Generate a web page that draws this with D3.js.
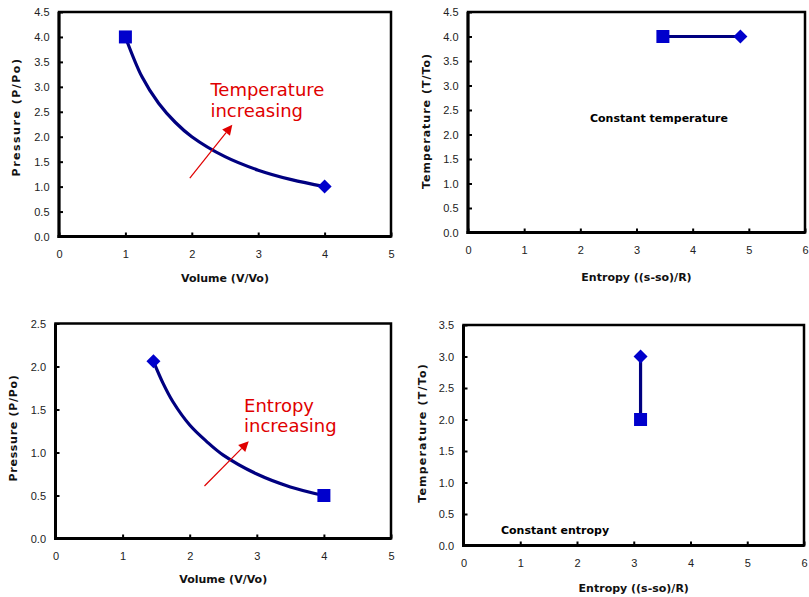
<!DOCTYPE html>
<html lang="en">
<head>
<meta charset="UTF-8">
<title>Isothermal and isentropic processes</title>
<script src="https://d3js.org/d3.v7.min.js"></script>
<style>
  body { margin: 0; background: #fff; }
  svg { display: block; font-family: "DejaVu Sans", Verdana, sans-serif; }
  .tick text { fill: #222; font-size: 11px; }
  .tick line { stroke: #000; stroke-width: 2; }
  .axis-title { font-size: 11px; font-weight: bold; fill: #111; }
  .note { font-size: 11px; font-weight: bold; fill: #000; }
  .red-note { font-size: 18px; fill: #e00000; }
</style>
</head>
<body>
<svg id="chart" width="809" height="597"></svg>
<script>
// ---- data ----
// isothermal process, P-V (temperature = 4)
const isoV = [1, 1.25, 1.5, 1.75, 2, 2.5, 3, 3.5, 4];
const isoP = [4, 3.2, 2.67, 2.29, 2, 1.6, 1.33, 1.14, 1];
// isothermal process, T-s
const isoS = [3.47, 4.85];
const isoT = [4, 4];

// isentropic process, P-V
const adiV = [1.46, 1.6, 1.75, 2, 2.25, 2.5, 3, 3.5, 4];
const adiP = [2.06, 1.81, 1.59, 1.32, 1.13, 0.97, 0.75, 0.6, 0.5];
// isentropic process, T-s
const adiS = [3.12, 3.12];
const adiT = [3, 2];

// which end gets the square and which the diamond (index into series)
const squareAt = { iso: 0, isoTs: 0, adi: 8, adiTs: 1 };

const xTicksV = [0, 1, 2, 3, 4, 5];
const xTicksS = [0, 1, 2, 3, 4, 5, 6];

// annotation arrows, in data units [tailX, tailY, headX, headY]
const tempArrow = [1.97, 1.17, 2.61, 2.24];
const entArrow = [2.22, 0.61, 2.88, 1.13];

const svg = d3.select("#chart");

function panel(opt) {
  const x = d3.scaleLinear().domain(opt.xDomain).range([opt.left, opt.right]);
  const y = d3.scaleLinear().domain(opt.yDomain).range([opt.bottom, opt.top]);
  const g = svg.append("g");

  g.append("rect")
    .attr("x", opt.left).attr("y", opt.top)
    .attr("width", opt.right - opt.left).attr("height", opt.bottom - opt.top)
    .attr("fill", "#fff").attr("stroke", "#000").attr("stroke-width", 2.5);

  const yTicks = d3.range(opt.yDomain[0], opt.yDomain[1] + 0.001, 0.5);

  const xa = g.append("g").attr("transform", `translate(0,${opt.bottom})`)
    .call(d3.axisBottom(x).tickValues(opt.xTicks).tickFormat(d3.format("d"))
      .tickSize(-4).tickSizeOuter(0).tickPadding(14));
  xa.select(".domain").remove();

  const ya = g.append("g").attr("transform", `translate(${opt.left},0)`)
    .call(d3.axisLeft(y).tickValues(yTicks).tickFormat(d3.format(".1f"))
      .tickSize(-4).tickSizeOuter(0).tickPadding(9.5));
  ya.select(".domain").remove();

  // heavier left and bottom axis lines
  g.append("line").attr("x1", opt.left).attr("x2", opt.left)
    .attr("y1", opt.top).attr("y2", opt.bottom + 1.5)
    .attr("stroke", "#000").attr("stroke-width", 3);
  g.append("line").attr("x1", opt.left - 1.5).attr("x2", opt.right)
    .attr("y1", opt.bottom).attr("y2", opt.bottom)
    .attr("stroke", "#000").attr("stroke-width", 3);

  g.append("text").attr("class", "axis-title")
    .attr("x", (opt.left + opt.right) / 2).attr("y", opt.xTitleY)
    .attr("text-anchor", "middle").text(opt.xTitle);
  g.append("text").attr("class", "axis-title")
    .attr("transform", `translate(${opt.yTitleX},${opt.yTitleY}) rotate(-90)`)
    .attr("letter-spacing", opt.yTitleSpacing)
    .attr("text-anchor", "middle").text(opt.yTitle);

  // series line
  const pts = opt.xs.map((v, i) => [v, opt.ys[i]]);
  g.append("path").datum(pts)
    .attr("fill", "none").attr("stroke", "#000080").attr("stroke-width", 3.2)
    .attr("d", d3.line().x(d => x(d[0])).y(d => y(d[1])).curve(d3.curveCatmullRom));

  // end markers
  const first = 0, last = pts.length - 1;
  [first, last].forEach(i => {
    const px = x(pts[i][0]), py = y(pts[i][1]);
    if (i === opt.square) {
      g.append("rect").attr("x", px - 6.5).attr("y", py - 6.5)
        .attr("width", 13).attr("height", 13).attr("fill", "#0000cc");
    } else {
      g.append("path")
        .attr("d", d3.symbol().type(d3.symbolDiamond2).size(125)())
        .attr("transform", `translate(${px},${py})`)
        .attr("fill", "#0000cc");
    }
  });

  return { g, x, y };
}

function arrow(p, a) {
  const x0 = p.x(a[0]), y0 = p.y(a[1]), x1 = p.x(a[2]), y1 = p.y(a[3]);
  const ang = Math.atan2(y1 - y0, x1 - x0);
  const len = 10, half = 5;
  const bx = x1 - len * Math.cos(ang), by = y1 - len * Math.sin(ang);
  p.g.append("line").attr("x1", x0).attr("y1", y0).attr("x2", bx).attr("y2", by)
    .attr("stroke", "#e00000").attr("stroke-width", 1.2);
  p.g.append("path")
    .attr("d", `M${x1},${y1}L${bx - half * Math.sin(ang)},${by + half * Math.cos(ang)}L${bx + half * Math.sin(ang)},${by - half * Math.cos(ang)}Z`)
    .attr("fill", "#e00000");
}

// top left: P-V, constant temperature
const p1 = panel({
  left: 59, right: 391, top: 12, bottom: 236.5,
  xDomain: [0, 5], yDomain: [0, 4.5], xTicks: xTicksV,
  xs: isoV, ys: isoP, square: squareAt.iso,
  xTitle: "Volume (V/Vo)", xTitleY: 282,
  yTitle: "Pressure (P/Po)", yTitleX: 20, yTitleY: 117, yTitleSpacing: 1.5
});
arrow(p1, tempArrow);
p1.g.append("text").attr("class", "red-note").attr("x", p1.x(2.28)).attr("y", p1.y(2.82)).text("Temperature");
p1.g.append("text").attr("class", "red-note").attr("x", p1.x(2.28)).attr("y", p1.y(2.4)).text("increasing");

// top right: T-s, constant temperature
const p2 = panel({
  left: 468, right: 805, top: 12, bottom: 232.5,
  xDomain: [0, 6], yDomain: [0, 4.5], xTicks: xTicksS,
  xs: isoS, ys: isoT, square: squareAt.isoTs,
  xTitle: "Entropy ((s-so)/R)", xTitleY: 281,
  yTitle: "Temperature (T/To)", yTitleX: 430, yTitleY: 121, yTitleSpacing: 1
});
p2.g.append("text").attr("class", "note").attr("x", p2.x(3.4)).attr("y", p2.y(2.25))
  .attr("text-anchor", "middle").text("Constant temperature");

// bottom left: P-V, constant entropy
const p3 = panel({
  left: 55.5, right: 391, top: 323.5, bottom: 538.5,
  xDomain: [0, 5], yDomain: [0, 2.5], xTicks: xTicksV,
  xs: adiV, ys: adiP, square: squareAt.adi,
  xTitle: "Volume (V/Vo)", xTitleY: 583,
  yTitle: "Pressure (P/Po)", yTitleX: 17, yTitleY: 428, yTitleSpacing: 0.7
});
arrow(p3, entArrow);
p3.g.append("text").attr("class", "red-note").attr("x", p3.x(2.81)).attr("y", p3.y(1.47)).text("Entropy");
p3.g.append("text").attr("class", "red-note").attr("x", p3.x(2.81)).attr("y", p3.y(1.24)).text("increasing");

// bottom right: T-s, constant entropy
const p4 = panel({
  left: 463.5, right: 804, top: 325, bottom: 545.5,
  xDomain: [0, 6], yDomain: [0, 3.5], xTicks: xTicksS,
  xs: adiS, ys: adiT, square: squareAt.adiTs,
  xTitle: "Entropy ((s-so)/R)", xTitleY: 592,
  yTitle: "Temperature (T/To)", yTitleX: 426, yTitleY: 433, yTitleSpacing: 1.2
});
p4.g.append("text").attr("class", "note").attr("x", p4.x(0.66)).attr("y", p4.y(0.18))
  .text("Constant entropy");
</script>
</body>
</html>
